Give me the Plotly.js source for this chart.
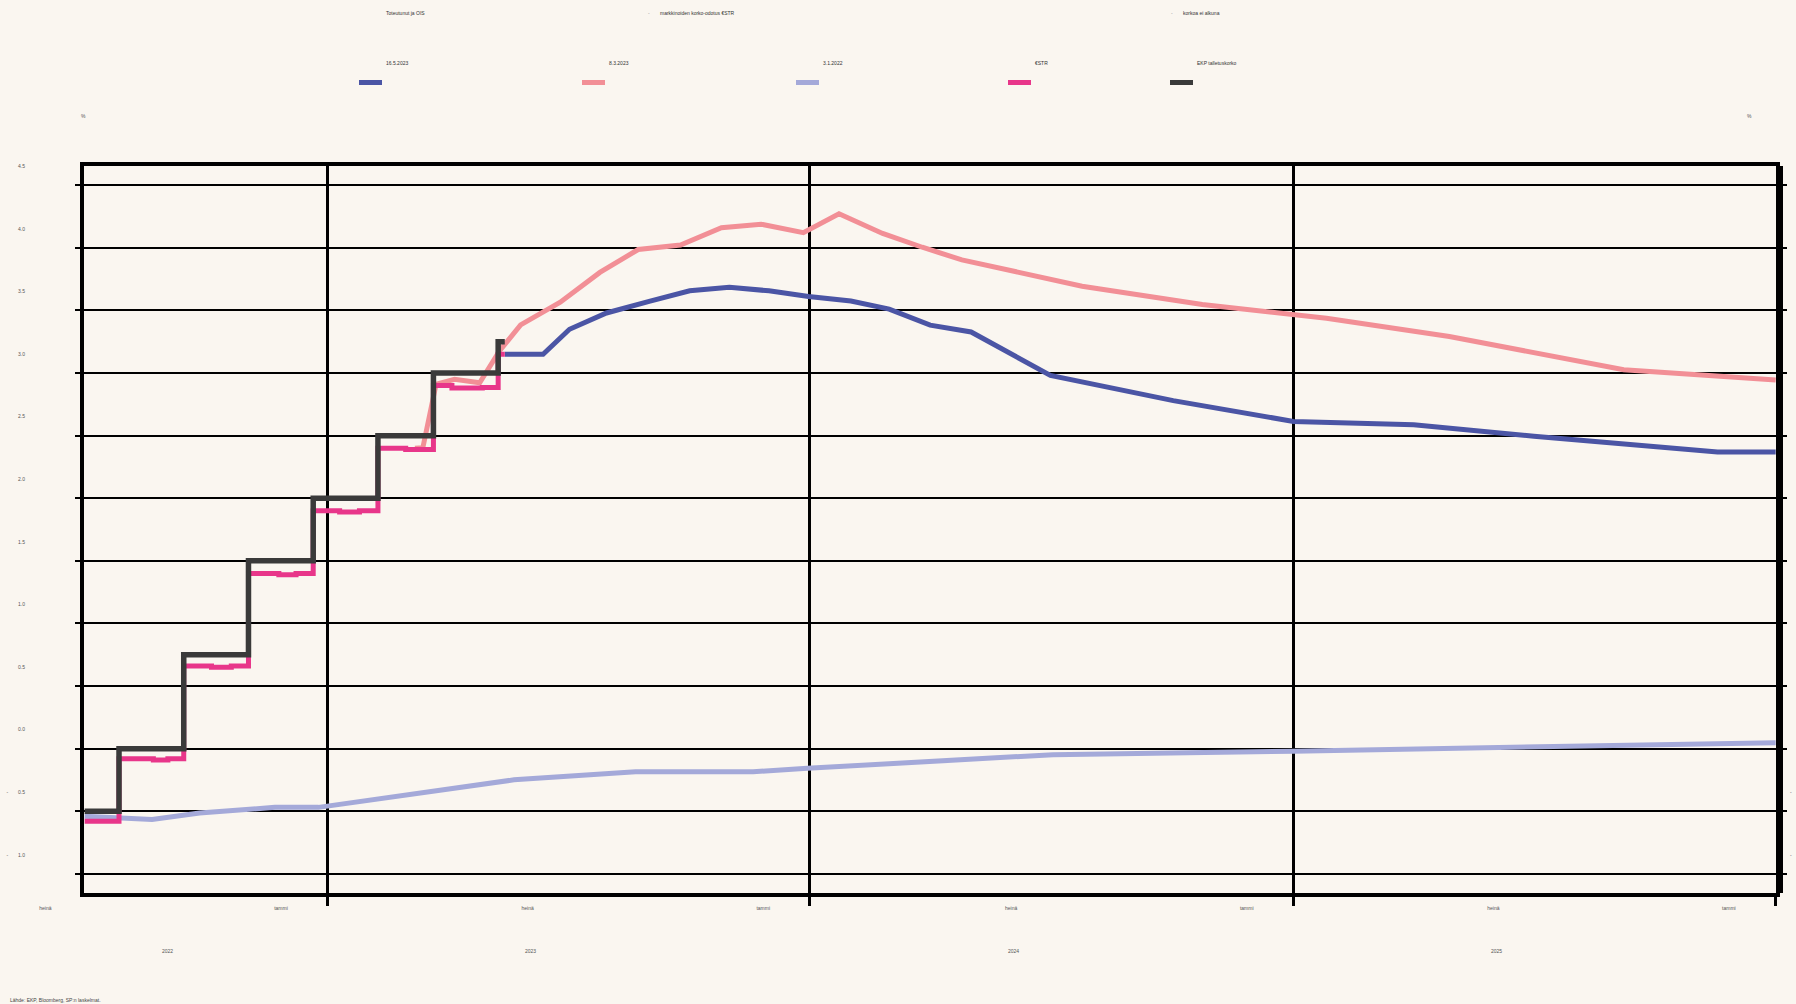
<!DOCTYPE html>
<html><head><meta charset="utf-8">
<script src="https://cdn.plot.ly/plotly-3.0.1.min.js"></script>
<style>html,body{margin:0;padding:0;background:#faf6f0;}#chart{width:1796px;height:1004px;}</style>
</head><body><div id="chart"></div>
<script>
// ---------------- DATA ----------------
const seriesNames = ['16.5.2023', '8.3.2023', '3.1.2022', '€STR', 'EKP talletuskorko'];
const groupHeaders = ['Toteutunut ja OIS', '-', 'markkinoiden korko-odotus €STR', '-', 'korkoa ei alkuna'];

const ois16May2023Dates = ['2023-05-15','2023-06-13','2023-07-03','2023-07-31','2023-09-02','2023-10-02','2023-11-01','2023-12-01','2023-12-31','2024-02-01','2024-03-01','2024-04-01','2024-05-02','2024-07-01','2024-10-02','2025-01-01','2025-04-02','2025-07-02','2025-11-18','2026-01-01'];
const ois16May2023Values = [3.15,3.15,3.35,3.48,3.575,3.657,3.685,3.657,3.612,3.575,3.511,3.383,3.328,2.981,2.78,2.614,2.587,2.495,2.37,2.37];

const ois8Mar2023Dates = ['2023-03-08','2023-03-14','2023-03-24','2023-04-07','2023-04-26','2023-05-03','2023-05-11','2023-05-27','2023-06-26','2023-07-26','2023-08-24','2023-09-25','2023-10-26','2023-11-25','2023-12-27','2024-01-23','2024-02-25','2024-03-26','2024-04-25','2024-07-25','2024-10-24','2025-01-26','2025-04-29','2025-09-08','2026-01-01'];
const ois8Mar2023Values = [2.40,2.404,2.91,2.95,2.923,3.043,3.177,3.385,3.566,3.804,3.987,4.023,4.161,4.189,4.121,4.273,4.115,4.005,3.904,3.694,3.548,3.438,3.292,3.026,2.944];

const ois3Jan2022Dates = ['2022-07-01','2022-08-21','2022-09-26','2022-11-22','2022-12-25','2023-05-22','2023-08-22','2023-11-19','2023-12-30','2024-07-03','2025-01-01','2026-01-01'];
const ois3Jan2022Values = [-0.54,-0.565,-0.514,-0.469,-0.469,-0.249,-0.185,-0.185,-0.157,-0.048,-0.02,0.048];

const estrDates = ['2022-07-01','2022-07-27','2022-08-22','2022-09-02','2022-09-14','2022-10-05','2022-10-20','2022-11-02','2022-11-25','2022-12-08','2022-12-21','2023-01-10','2023-01-25','2023-02-08','2023-03-01','2023-03-22','2023-04-05','2023-04-28','2023-05-10','2023-05-15'];
const estrValues = [-0.58,-0.08,-0.09,-0.08,0.66,0.65,0.66,1.40,1.39,1.40,1.90,1.89,1.90,2.40,2.39,2.90,2.88,2.885,3.15,3.15];

const depositRateDates = ['2022-07-01','2022-07-27','2022-09-14','2022-11-02','2022-12-21','2023-02-08','2023-03-22','2023-05-10','2023-05-15'];
const depositRateValues = [-0.5,0,0.75,1.5,2.0,2.5,3.0,3.25,3.25];

const yTickValues = [-1.0,-0.5,0.0,0.5,1.0,1.5,2.0,2.5,3.0,3.5,4.0,4.5];
const yTickNumbers = ['1.0','0.5','0.0','0.5','1.0','1.5','2.0','2.5','3.0','3.5','4.0','4.5'];

const monthTickDates = ['2022-07-01','2023-01-01','2023-07-01','2024-01-01','2024-07-01','2025-01-01','2025-07-01','2026-01-01'];
const monthTickLabels = ['heinä','tammi','heinä','tammi','heinä','tammi','heinä','tammi'];
const yearStartDates = ['2023-01-01','2024-01-01','2025-01-01','2026-01-01'];
const yearLabels = ['2022','2023','2024','2025'];

const sourceText = 'Lähde: EKP, Bloomberg, SP:n laskelmat.';

// ---------------- STYLE / LAYOUT ----------------
const colors = ['#4b55a5', '#f28f96', '#a4a9d9', '#e8368a', '#3a3a3a'];
const W = 1796, H = 1004;
const M = {l: 84, r: 20, t: 166, b: 111};
const PW = W - M.l - M.r, PH = H - M.t - M.b;
const px = x => (x - M.l) / PW;
const py = y => (H - M.b - y) / PH;
const xRange = ['2022-06-30 12:00', '2026-01-01 06:00'];
const yRange = [-1.153, 4.654];
const bg = '#faf6f0';
const font = 'Liberation Sans, Arial, sans-serif';

// tick label typography: the minus sign sits apart from the digits
const gap = '\u2003\u2003';
const leftYLabels = yTickValues.map((v, i) => (v < 0 ? '-' + gap : '') + yTickNumbers[i]);
const rightYLabels = yTickValues.map((v, i) => (v < 0 ? '-' : '\u2009') + gap + yTickNumbers[i]);
const monthLabelsPadded = monthTickLabels.map(t => t === 'heinä' ? '\u2003\u2002' + t : t + '\u2003\u2002');

const seriesX = [ois16May2023Dates, ois8Mar2023Dates, ois3Jan2022Dates, estrDates, depositRateDates];
const seriesY = [ois16May2023Values, ois8Mar2023Values, ois3Jan2022Values, estrValues, depositRateValues];
const drawOrder = [2, 0, 1, 3, 4];
const traces = drawOrder.map(i => ({
  type: 'scatter', mode: 'lines', name: seriesNames[i],
  x: seriesX[i], y: seriesY[i],
  // the deposit rate (top-most line) lives on the overlay axes, which share the same ranges
  xaxis: i === 4 ? 'x2' : 'x', yaxis: i === 4 ? 'y2' : 'y',
  line: {color: colors[i], width: i === 4 ? 5.5 : 5, shape: i >= 3 ? 'hv' : 'linear'},
  hoverinfo: 'skip'
}));

// custom legend
const legendSwatchX = [359, 582, 796, 1008, 1170];
const shapes = [];
const annotations = [];
seriesNames.forEach((n, i) => {
  shapes.push({type: 'rect', xref: 'paper', yref: 'paper',
    x0: px(legendSwatchX[i]), x1: px(legendSwatchX[i] + 23), y0: py(85), y1: py(80),
    fillcolor: colors[i], line: {width: 0}});
  annotations.push({text: n, xref: 'paper', yref: 'paper', x: px(legendSwatchX[i] + 25), y: py(63),
    xanchor: 'left', yanchor: 'middle', showarrow: false, font: {family: font, size: 5, color: '#333'}});
});
const headerX = [384, 646, 658, 1169, 1181];
groupHeaders.forEach((h, i) => {
  annotations.push({text: h, xref: 'paper', yref: 'paper', x: px(headerX[i]), y: py(13),
    xanchor: 'left', yanchor: 'middle', showarrow: false, font: {family: font, size: 5, color: i === 1 || i === 3 ? '#999' : '#333'}});
});
// % labels
[83, 1749].forEach(x => {
  annotations.push({text: '%', xref: 'paper', yref: 'paper', x: px(x), y: py(116), xanchor: 'center', yanchor: 'middle',
    showarrow: false, font: {family: font, size: 5, color: '#555'}});
});
// year labels centred on the visible part of each year
const r0 = new Date(xRange[0].replace(' ', 'T') + 'Z').getTime();
const r1 = new Date(xRange[1].replace(' ', 'T') + 'Z').getTime();
yearLabels.forEach(y => {
  const s = Math.max(r0, Date.UTC(+y, 0, 1));
  const e = Math.min(r1, Date.UTC(+y + 1, 0, 1));
  const mid = new Date((s + e) / 2).toISOString().slice(0, 19).replace('T', ' ');
  annotations.push({text: y, xref: 'x', yref: 'paper', x: mid, y: py(951), xshift: -38,
    xanchor: 'center', yanchor: 'middle', showarrow: false, font: {family: font, size: 5, color: '#555'}});
});
annotations.push({text: sourceText, xref: 'paper', yref: 'paper', x: px(8), y: py(1000),
  xanchor: 'left', yanchor: 'middle', showarrow: false, font: {family: font, size: 5, color: '#444'}});

const layout = {
  width: W, height: H, margin: M,
  paper_bgcolor: bg, plot_bgcolor: bg,
  showlegend: false,
  font: {family: font, size: 5, color: '#555'},
  // main x axis: year boundaries with vertical grid lines and long ticks
  xaxis: {
    type: 'date', range: xRange, tickmode: 'array', tickvals: yearStartDates, showticklabels: false,
    ticks: 'outside', ticklen: 9, tickwidth: 3, tickcolor: '#000',
    showgrid: true, gridcolor: '#000', gridwidth: 3, zeroline: false,
    showline: true, linecolor: '#000', linewidth: 4, mirror: true
  },
  // overlay x axis: half-year month labels with short ticks
  xaxis2: {
    type: 'date', range: xRange, overlaying: 'x', anchor: 'y', side: 'bottom',
    tickmode: 'array', tickvals: monthTickDates, ticktext: monthLabelsPadded,
    ticks: 'outside', ticklen: 3, tickwidth: 1, tickcolor: '#000',
    showgrid: false, zeroline: false, showline: false,
    ticklabelshift: -43, ticklabelstandoff: 7, tickfont: {family: font, size: 5, color: '#555'}
  },
  yaxis: {
    range: yRange, tickmode: 'array', tickvals: yTickValues, ticktext: leftYLabels,
    showgrid: true, gridcolor: '#000', gridwidth: 2, zeroline: false,
    showline: true, linecolor: '#000', linewidth: 4, mirror: true,
    ticks: 'outside', ticklen: 5, tickwidth: 2, tickcolor: '#000',
    ticklabelstandoff: 49, ticklabelshift: -19, tickfont: {family: font, size: 5, color: '#555'}
  },
  yaxis2: {
    range: yRange, overlaying: 'y', side: 'right', anchor: 'x',
    tickmode: 'array', tickvals: yTickValues, ticktext: rightYLabels,
    showgrid: false, zeroline: false, showline: true, linecolor: '#000', linewidth: 7,
    ticks: 'outside', ticklen: 4, tickwidth: 2, tickcolor: '#000',
    ticklabelstandoff: 2, ticklabelshift: -19, tickfont: {family: font, size: 5, color: '#555'}
  },
  shapes: shapes,
  annotations: annotations
};

Plotly.newPlot('chart', traces, layout, {displayModeBar: false, staticPlot: true});
</script>
</body></html>
